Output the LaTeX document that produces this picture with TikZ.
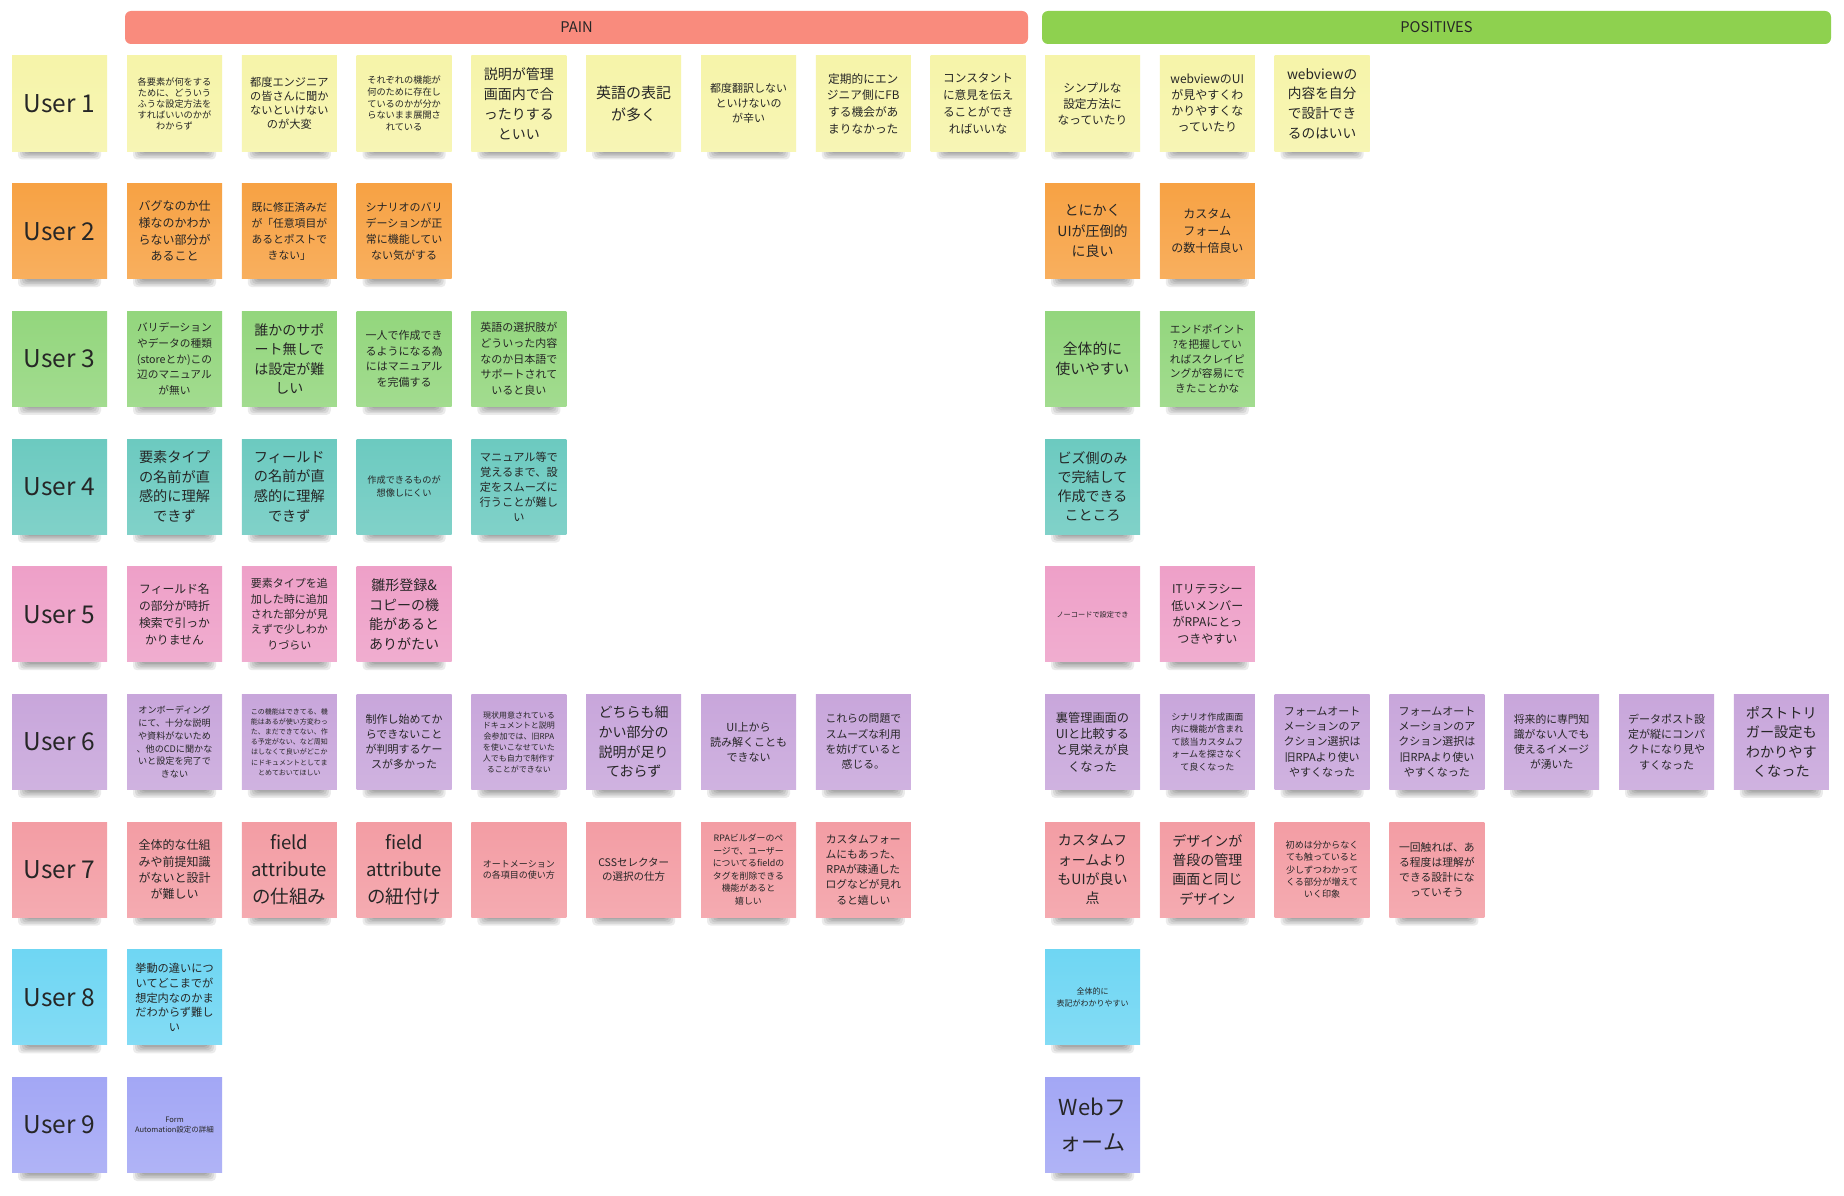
\documentclass[tikz,border=0pt]{standalone}
\usepackage{fontspec}
\setmainfont{Noto Sans CJK JP}
\definecolor{cY}{HTML}{F6F4A9}
\definecolor{cO}{HTML}{F7A244}
\definecolor{cG}{HTML}{93D67D}
\definecolor{cT}{HTML}{6CCAC0}
\definecolor{cK}{HTML}{EEA0C8}
\definecolor{cV}{HTML}{C8A6DB}
\definecolor{cR}{HTML}{F39DA4}
\definecolor{cC}{HTML}{6FD6F3}
\definecolor{cB}{HTML}{A3A7F5}
\definecolor{hP}{HTML}{F98B7D}
\definecolor{hG}{HTML}{8ED14F}
\definecolor{txt}{HTML}{262626}
\tikzset{
  stk/.style={minimum width=95pt, minimum height=95pt, inner sep=0pt, align=center, text=txt, anchor=center},
  hdr/.style={minimum height=33pt, inner sep=0pt, rounded corners=6pt, text=txt, font=\fontsize{14.7}{17}\selectfont}
}
\newcommand{\myshd}[2]{\foreach \k in {1,...,5}{\fill[black,opacity=0.08,rounded corners=4pt] ({#1+4+2*\k},{#2+86}) rectangle ({#1+91-2*\k},{#2+105-1.6*\k});}}
\newcommand{\mynote}[7]{\myshd{#2}{#3}\node[stk, top color=#4, bottom color=#4!86!white, font=\fontsize{#5}{#6}\selectfont] (#1) at ({#2+47.5},{#3+47.5}) {#7};}
\begin{document}
\begin{tikzpicture}[x=1pt,y=-1pt]
\useasboundingbox (0,0) rectangle (1844,1196);
\fill[white] (0,0) rectangle (1844,1196);
% headers
\node[hdr, fill=hP, minimum width=903pt] (pain) at (576.5,27.5) {PAIN};
\node[hdr, fill=hG, minimum width=789pt] (pos) at (1436.5,27.5) {POSITIVES};
% row 1
\mynote{u1}{12}{56}{cY}{24.5}{28}{User 1}
\mynote{p11}{127}{56}{cY}{9.2}{11}{各要素が何をする\\ために、どういう\\ふうな設定方法を\\すればいいのかが\\わからず}
\mynote{p12}{241.8}{56}{cY}{11.2}{14}{都度エンジニア\\の皆さんに聞か\\ないといけない\\のが大変}
\mynote{p13}{356.6}{56}{cY}{9.2}{11.7}{それぞれの機能が\\何のために存在し\\ているのかが分か\\らないまま展開さ\\れている}
\mynote{p14}{471.4}{56}{cY}{14}{20}{説明が管理\\画面内で合\\ったりする\\といい}
\mynote{p15}{586.2}{56}{cY}{15}{21.7}{英語の表記\\が多く}
\mynote{p16}{701}{56}{cY}{11}{15}{都度翻訳しない\\といけないの\\が辛い}
\mynote{p17}{815.8}{56}{cY}{11.7}{16.7}{定期的にエン\\ジニア側にFB\\する機会があ\\まりなかった}
\mynote{p18}{930.6}{56}{cY}{11.7}{16.7}{コンスタント\\に意見を伝え\\ることができ\\ればいいな}
\mynote{q11}{1045}{56}{cY}{11.7}{16}{シンプルな\\設定方法に\\なっていたり}
\mynote{q12}{1159.8}{56}{cY}{12}{16}{webviewのUI\\が見やすくわ\\かりやすくな\\っていたり}
\mynote{q13}{1274.6}{56}{cY}{13.7}{19.7}{webviewの\\内容を自分\\で設計でき\\るのはいい}
% row 2
\mynote{u2}{12}{183.7}{cO}{24.5}{28}{User 2}
\mynote{p21}{127}{183.7}{cO}{12}{16.7}{バグなのか仕\\様なのかわか\\らない部分が\\あること}
\mynote{p22}{241.8}{183.7}{cO}{10.8}{16}{既に修正済みだ\\が「任意項目が\\あるとポストで\\きない」}
\mynote{p23}{356.6}{183.7}{cO}{11}{16}{シナリオのバリ\\デーションが正\\常に機能してい\\ない気がする}
\mynote{q21}{1045}{183.7}{cO}{14}{20.5}{とにかく\\UIが圧倒的\\に良い}
\mynote{q22}{1159.8}{183.7}{cO}{12}{16.7}{カスタム\\フォーム\\の数十倍良い}
% row 3
\mynote{u3}{12}{311.4}{cG}{24.5}{28}{User 3}
\mynote{p31}{127}{311.4}{cG}{10.7}{15.7}{バリデーション\\やデータの種類\\(storeとか)この\\辺のマニュアル\\が無い}
\mynote{p32}{241.8}{311.4}{cG}{14}{19.5}{誰かのサポ\\ート無しで\\は設定が難\\しい}
\mynote{p33}{356.6}{311.4}{cG}{11}{15.6}{一人で作成でき\\るようになる為\\にはマニュアル\\を完備する}
\mynote{p34}{471.4}{311.4}{cG}{11}{15.7}{英語の選択肢が\\どういった内容\\なのか日本語で\\サポートされて\\いると良い}
\mynote{q31}{1045}{311.4}{cG}{14.8}{20}{全体的に\\使いやすい}
\mynote{q32}{1159.8}{311.4}{cG}{10.7}{14.8}{エンドポイント\\?を把握してい\\ればスクレイピ\\ングが容易にで\\きたことかな}
% row 4
\mynote{u4}{12}{439.1}{cT}{24.5}{28}{User 4}
\mynote{p41}{127}{439.1}{cT}{14.2}{19.7}{要素タイプ\\の名前が直\\感的に理解\\できず}
\mynote{p42}{241.8}{439.1}{cT}{14.2}{19.7}{フィールド\\の名前が直\\感的に理解\\できず}
\mynote{p43}{356.6}{439.1}{cT}{9.2}{12.7}{作成できるものが\\想像しにくい}
\mynote{p44}{471.4}{439.1}{cT}{11.2}{15}{マニュアル等で\\覚えるまで、設\\定をスムーズに\\行うことが難し\\い}
\mynote{q41}{1045}{439.1}{cT}{14}{19}{ビズ側のみ\\で完結して\\作成できる\\こところ}
% row 5
\mynote{u5}{12}{566.8}{cK}{24.5}{28}{User 5}
\mynote{p51}{127}{566.8}{cK}{11.8}{16.7}{フィールド名\\の部分が時折\\検索で引っか\\かりません}
\mynote{p52}{241.8}{566.8}{cK}{11}{15.3}{要素タイプを追\\加した時に追加\\された部分が見\\えずで少しわか\\りづらい}
\mynote{p53}{356.6}{566.8}{cK}{14}{19.5}{雛形登録\&\\コピーの機\\能があると\\ありがたい}
\mynote{q51}{1045}{566.8}{cK}{7.2}{9}{ノーコードで設定でき}
\mynote{q52}{1159.8}{566.8}{cK}{12}{16.7}{ITリテラシー\\低いメンバー\\がRPAにとっ\\つきやすい}
% row 6
\mynote{u6}{12}{694.5}{cV}{24.5}{28}{User 6}
\mynote{p61}{127}{694.5}{cV}{9.1}{12.7}{オンボーディング\\にて、十分な説明\\や資料がないため\\、他のCDに聞かな\\いと設定を完了で\\きない}
\mynote{p62}{241.8}{694.5}{cV}{7}{10.2}{この機能はできてる、機\\能はあるが使い方変わっ\\た、まだできてない、作\\る予定がない、など周知\\はしなくて良いがどこか\\にドキュメントとしてま\\とめておいてほしい}
\mynote{p63}{356.6}{694.5}{cV}{11}{15}{制作し始めてか\\らできないこと\\が判明するケー\\スが多かった}
\mynote{p64}{471.4}{694.5}{cV}{8}{10.8}{現状用意されている\\ドキュメントと説明\\会参加では、旧RPA\\を使いこなせていた\\人でも自力で制作す\\ることができない}
\mynote{p65}{586.2}{694.5}{cV}{14}{19.7}{どちらも細\\かい部分の\\説明が足り\\ておらず}
\mynote{p66}{701}{694.5}{cV}{11}{15}{UI上から\\読み解くことも\\できない}
\mynote{p67}{815.8}{694.5}{cV}{10.8}{15.3}{これらの問題で\\スムーズな利用\\を妨げていると\\感じる。}
\mynote{q61}{1045}{694.5}{cV}{12.2}{16.3}{裏管理画面の\\UIと比較する\\と見栄えが良\\くなった}
\mynote{q62}{1159.8}{694.5}{cV}{9}{12.5}{シナリオ作成画面\\内に機能が含まれ\\て該当カスタムフ\\ォームを探さなく\\て良くなった}
\mynote{q63}{1274.6}{694.5}{cV}{11}{15.25}{フォームオート\\メーションのア\\クション選択は\\旧RPAより使い\\やすくなった}
\mynote{q64}{1389.4}{694.5}{cV}{11}{15.25}{フォームオート\\メーションのア\\クション選択は\\旧RPAより使い\\やすくなった}
\mynote{q65}{1504.2}{694.5}{cV}{10.8}{15}{将来的に専門知\\識がない人でも\\使えるイメージ\\が湧いた}
\mynote{q66}{1619}{694.5}{cV}{11}{15.2}{データポスト設\\定が縦にコンパ\\クトになり見や\\すくなった}
\mynote{q67}{1733.8}{694.5}{cV}{14.2}{19.3}{ポストトリ\\ガー設定も\\わかりやす\\くなった}
% row 7
\mynote{u7}{12}{822.2}{cR}{24.5}{28}{User 7}
\mynote{p71}{127}{822.2}{cR}{12}{16.4}{全体的な仕組\\みや前提知識\\がないと設計\\が難しい}
\mynote{p72}{241.8}{822.2}{cR}{18.5}{26.7}{field\\attribute\\の仕組み}
\mynote{p73}{356.6}{822.2}{cR}{18.5}{26.7}{field\\attribute\\の紐付け}
\mynote{p74}{471.4}{822.2}{cR}{9}{11.5}{オートメーション\\の各項目の使い方}
\mynote{p75}{586.2}{822.2}{cR}{10.5}{14.3}{CSSセレクター\\の選択の仕方}
\mynote{p76}{701}{822.2}{cR}{8.9}{12.5}{RPAビルダーのペ\\ージで、ユーザー\\についてるfieldの\\タグを削除できる\\機能があると\\嬉しい}
\mynote{p77}{815.8}{822.2}{cR}{10.8}{15.2}{カスタムフォー\\ムにもあった、\\RPAが疎通した\\ログなどが見れ\\ると嬉しい}
\mynote{q71}{1045}{822.2}{cR}{14}{19.4}{カスタムフ\\ォームより\\もUIが良い\\点}
\mynote{q72}{1159.8}{822.2}{cR}{14}{19.4}{デザインが\\普段の管理\\画面と同じ\\デザイン}
\mynote{q73}{1274.6}{822.2}{cR}{9.1}{12.3}{初めは分からなく\\ても触っていると\\少しずつわかって\\くる部分が増えて\\いく印象}
\mynote{q74}{1389.4}{822.2}{cR}{10.8}{15}{一回触れば、あ\\る程度は理解が\\できる設計にな\\っていそう}
% row 8
\mynote{u8}{12}{949.9}{cC}{24.5}{28}{User 8}
\mynote{p81}{127}{949.9}{cC}{11.2}{14.7}{挙動の違いにつ\\いてどこまでが\\想定内なのかま\\だわからず難し\\い}
\mynote{q81}{1045}{949.9}{cC}{8}{11.7}{全体的に\\表記がわかりやすい}
% row 9
\mynote{u9}{12}{1077.6}{cB}{24.5}{28}{User 9}
\mynote{p91}{127}{1077.6}{cB}{7.5}{10}{Form\\Automation設定の詳細}
\mynote{q91}{1045}{1077.6}{cB}{22}{35}{Webフ\\ォーム}
\end{tikzpicture}
\end{document}
